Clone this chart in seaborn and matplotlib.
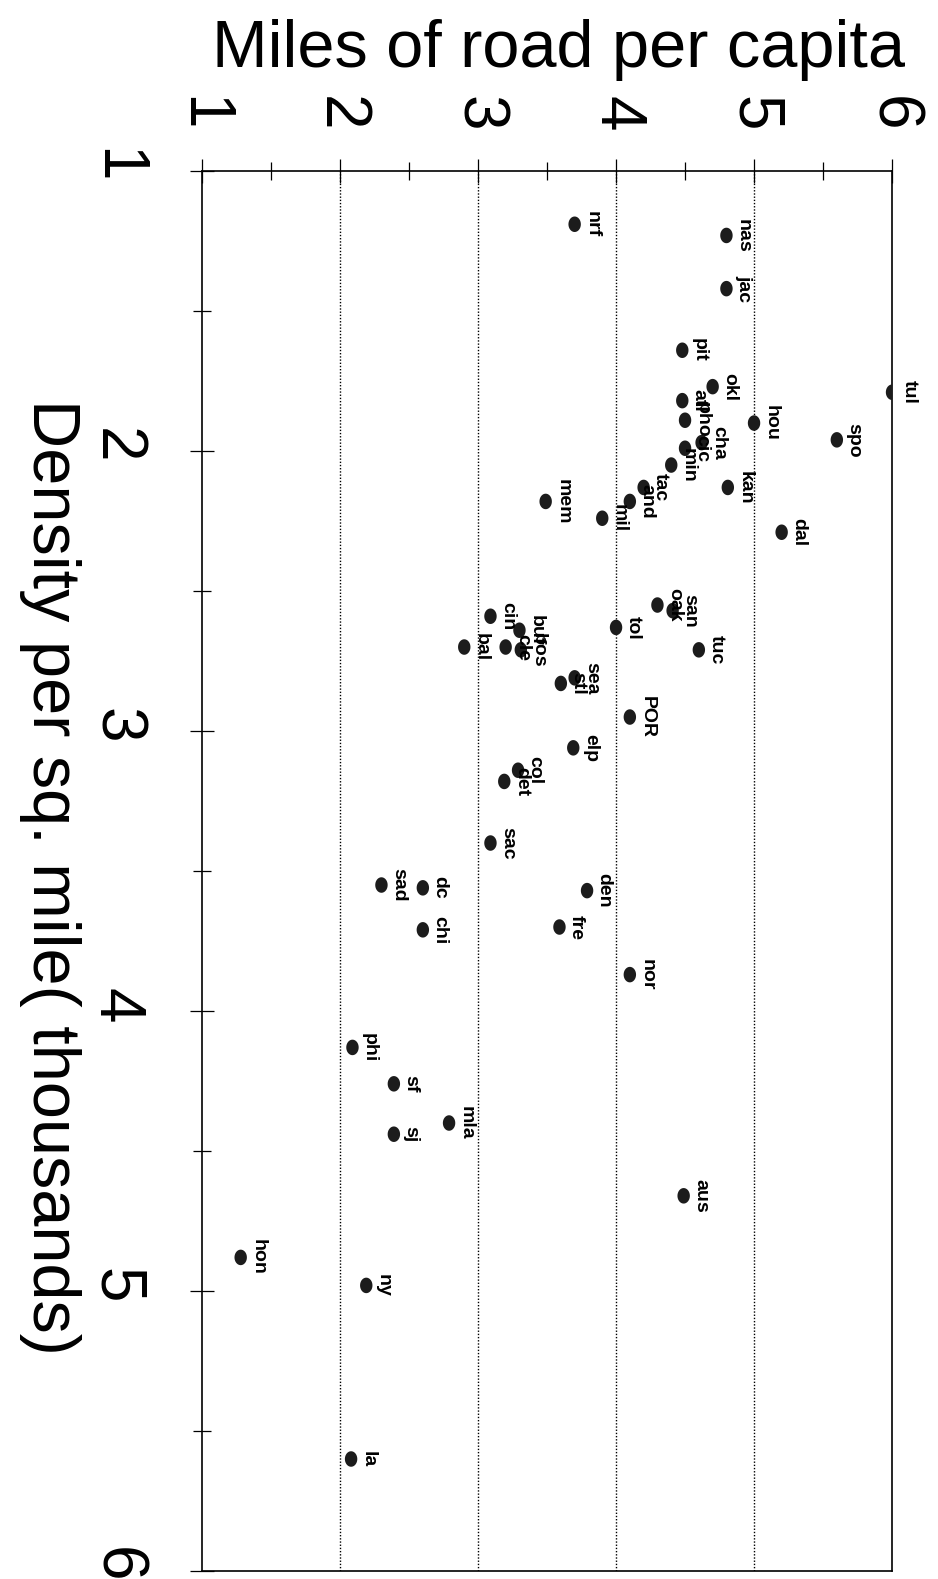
import numpy as np
import pandas as pd
import matplotlib
matplotlib.use("Agg")
import matplotlib.pyplot as plt
import seaborn as sns
from matplotlib.path import Path
from matplotlib.ticker import MultipleLocator

# City abbreviations
cities = ["tul", "spo", "hou", "okl", "pit", "nas", "jac", "nrf", "atl", "pho",
          "cha", "cic", "min", "tac", "and", "mil", "kan", "dal", "mem", "oak",
          "san", "tol", "tuc", "cin", "bal", "buf", "bos", "cle", "sea", "stl",
          "POR", "elp", "col", "det", "sac", "sad", "dc", "chi", "den", "fre",
          "nor", "phi", "sf", "mla", "sj", "aus", "hon", "ny", "la"]

# Population density, thousands per square mile
density = [1.79, 1.96, 1.90, 1.77, 1.64, 1.23, 1.42, 1.19, 1.82, 1.89,
           1.97, 1.99, 2.05, 2.13, 2.18, 2.24, 2.13, 2.29, 2.18, 2.55,
           2.57, 2.63, 2.71, 2.59, 2.70, 2.64, 2.71, 2.70, 2.81, 2.83,
           2.95, 3.06, 3.14, 3.18, 3.40, 3.55, 3.56, 3.71, 3.57, 3.70,
           3.87, 4.13, 4.26, 4.40, 4.44, 4.66, 4.88, 4.98, 5.60]

# Miles of road per capita
miles = [6.00, 5.60, 5.00, 4.70, 4.48, 4.80, 4.80, 3.70, 4.48, 4.50,
         4.62, 4.50, 4.40, 4.20, 4.10, 3.90, 4.81, 5.20, 3.49, 4.30,
         4.41, 4.00, 4.60, 3.09, 2.90, 3.30, 3.31, 3.20, 3.70, 3.60,
         4.10, 3.69, 3.29, 3.19, 3.09, 2.30, 2.60, 2.60, 3.79, 3.59,
         4.10, 2.09, 2.39, 2.79, 2.39, 4.49, 1.28, 2.19, 2.08]

tick_values = [1, 2, 3, 4, 5, 6]
tick_labels = ["1", "2", "3", "4", "5", "6"]

df = pd.DataFrame({"city": cities, "density": density, "miles": miles})

sns.set_style("white")
plt.rcParams["font.family"] = ["Liberation Sans", "DejaVu Sans"]
plt.rcParams["text.color"] = "black"
plt.rcParams["axes.labelcolor"] = "black"
plt.rcParams["xtick.color"] = "black"
plt.rcParams["ytick.color"] = "black"

fig = plt.figure(figsize=(9.38, 15.79), dpi=100)
fig.patch.set_facecolor("white")
ax = fig.add_axes([0.2154, 0.00507, 0.7356, 0.8866])

# Slightly tall elliptical dot
t = np.linspace(0, 2 * np.pi, 41)
ellipse = Path(np.column_stack([0.8 * np.cos(t), np.sin(t)]), closed=True)

sns.scatterplot(data=df, x="miles", y="density", marker=ellipse, s=125,
                color="#1c1c1c", edgecolor="none", linewidth=0, ax=ax,
                legend=False, zorder=3)

for name, m, d in zip(cities, miles, density):
    ax.annotate(name, (m, d), xytext=(9.0, 0), textcoords="offset points",
                rotation=-90, rotation_mode="anchor", ha="center",
                va="baseline", fontsize=14, fontweight="bold",
                color="black", zorder=4)

ax.set_xlim(1, 6)
ax.set_ylim(6, 1)

ax.set_xticks(tick_values)
ax.set_xticklabels(tick_labels)
ax.set_yticks(tick_values)
ax.set_yticklabels(tick_labels)
ax.xaxis.set_minor_locator(MultipleLocator(0.5))
ax.yaxis.set_minor_locator(MultipleLocator(0.5))

ax.xaxis.tick_top()
ax.tick_params(axis="x", which="both", top=True, bottom=False,
               labeltop=True, labelbottom=False)
ax.tick_params(axis="y", which="both", left=True, right=False)
ax.tick_params(which="major", direction="inout", length=17, width=0.9,
               color="black")
ax.tick_params(which="minor", direction="inout", length=13, width=0.9,
               color="black")
ax.tick_params(axis="x", which="major", labelsize=46, labelrotation=-90,
               pad=20, labelcolor="black")
ax.tick_params(axis="y", which="major", labelsize=46, labelrotation=-90,
               pad=32, labelcolor="black")

# Dotted reference lines at whole miles
for v in tick_values[1:-1]:
    ax.axvline(v, color="black", lw=1.0, ls=(0, (1, 1.3)), zorder=1)

for side in ["left", "right", "top", "bottom"]:
    ax.spines[side].set_visible(True)
    ax.spines[side].set_color("black")
    ax.spines[side].set_linewidth(1.2)

ax.set_xlabel("Miles of road per capita", fontsize=48, color="black")
ax.xaxis.set_label_position("top")
ax.xaxis.label.set_va("baseline")
ax.xaxis.set_label_coords(0.517, 1.0742)

ax.set_ylabel("Density per sq. mile( thousands)", fontsize=48,
              rotation=-90, ha="left", va="center", color="black")
ax.yaxis.label.set_rotation_mode("default")
ax.yaxis.set_label_coords(-0.266, 0.496)

fig.savefig("out.png", dpi=100, facecolor="white")
